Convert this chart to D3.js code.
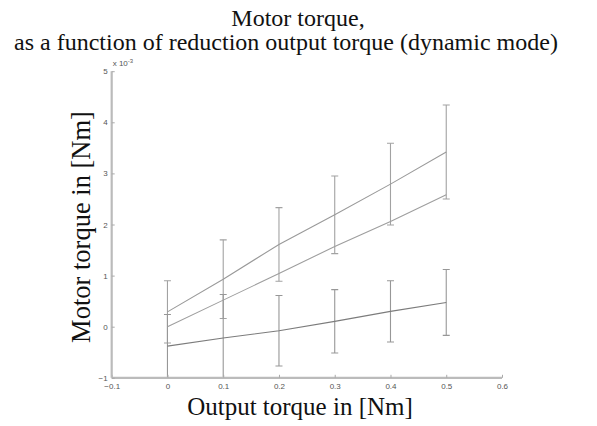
<!DOCTYPE html>
<html>
<head>
<meta charset="utf-8">
<script src="https://cdn.jsdelivr.net/npm/d3@7"></script>
<style>
  body { margin: 0; background: #fff; }
  svg { display: block; }
  .title, .label { font-family: "Liberation Serif", "Times New Roman", serif; fill: #111; }
  .tick text { font-family: "Liberation Sans", Arial, sans-serif; font-size: 8px; fill: #555; }
</style>
</head>
<body>
<svg id="chart" width="597" height="426"></svg>
<script>
// output torque [Nm]
const outTorque = [0, 0.1, 0.2, 0.3, 0.4, 0.5]
// motor torque, units of 1e-3 Nm
const seriesA = [0.29, 0.93, 1.61, 2.19, 2.79, 3.42]
const errA = [0.61, 0.77, 0.72, 0.76, 0.80, 0.92]
const seriesB = [0.0, 0.52, 1.04, 1.57, 2.06, 2.58]
const seriesC = [-0.38, -0.22, -0.08, 0.105, 0.30, 0.475]
const errC = [0.62, 0.85, 0.69, 0.62, 0.60, 0.645]
const xTicks = [-0.1, 0, 0.1, 0.2, 0.3, 0.4, 0.5, 0.6]
const yTicks = [-1, 0, 1, 2, 3, 4, 5]

const svg = d3.select('#chart')
const x = d3.scaleLinear().domain([-0.1, 0.6]).range([111.7, 502])
const y = d3.scaleLinear().domain([-1, 5]).range([377.8, 71.2])

svg.append('rect').attr('width', 597).attr('height', 426).attr('fill', '#fff')

svg.append('defs').append('clipPath').attr('id', 'plot')
	.append('rect')
	.attr('x', x(-0.1)).attr('y', y(5))
	.attr('width', x(0.6) - x(-0.1)).attr('height', y(-1) - y(5))

const plot = svg.append('g').attr('clip-path', 'url(#plot)')

const line = d3.line()
	.x((d, i) => x(outTorque[i]))
	.y(d => y(d))

const drawBars = (vals, errs, color) => {
	const g = plot.append('g').attr('stroke', color).attr('stroke-width', 1.1).attr('fill', 'none')
	vals.forEach((v, i) => {
		const cx = x(outTorque[i])
		const lo = y(v - errs[i]), hi = y(v + errs[i])
		g.append('line').attr('x1', cx).attr('x2', cx).attr('y1', lo).attr('y2', hi)
		g.append('line').attr('x1', cx - 3.5).attr('x2', cx + 3.5).attr('y1', lo).attr('y2', lo)
		g.append('line').attr('x1', cx - 3.5).attr('x2', cx + 3.5).attr('y1', hi).attr('y2', hi)
	})
}

drawBars(seriesA, errA, '#a2a2a2')
drawBars(seriesC, errC, '#979797')

const lines = [
	{ data: seriesA, color: '#9a9a9a' },
	{ data: seriesB, color: '#9e9e9e' },
	{ data: seriesC, color: '#7c7c7c' }
]
lines.forEach(s => {
	plot.append('path')
		.attr('d', line(s.data))
		.attr('fill', 'none')
		.attr('stroke', s.color)
		.attr('stroke-width', 1.1)
})

// axes (matlab style, ticks inward, no box)
const xAxis = svg.append('g')
	.attr('class', 'x axis')
	.attr('transform', `translate(0, ${y(-1)})`)
	.call(d3.axisBottom(x).tickValues(xTicks).tickSize(-3).tickPadding(6).tickFormat(d3.format('.1f')))
xAxis.selectAll('.tick text').text(d => d === 0 ? '0' : d3.format('.1f')(d))

const yAxis = svg.append('g')
	.attr('class', 'y axis')
	.attr('transform', `translate(${x(-0.1)}, 0)`)
	.call(d3.axisLeft(y).tickValues(yTicks).tickSize(-3).tickPadding(4).tickFormat(d3.format('d')))

svg.selectAll('.axis path.domain').attr('stroke', '#bbb').attr('stroke-width', 2.2)
svg.selectAll('.axis .tick line').attr('stroke', '#aaa')
xAxis.select('.domain').attr('d', `M${x(-0.1)},0H${x(0.6)}`)
yAxis.select('.domain').attr('d', `M0,${y(5)}V${y(-1)}`)

// exponent label
const expo = svg.append('text')
	.attr('x', x(-0.1) + 1)
	.attr('y', y(5) - 5)
	.style('font-family', '"Liberation Sans", Arial, sans-serif')
	.style('font-size', '8px')
	.attr('fill', '#555')
expo.append('tspan').text('x 10')
expo.append('tspan').attr('dy', -3).style('font-size', '6px').text('-3')

// titles
svg.append('text').attr('class', 'title')
	.attr('x', 298).attr('y', 26)
	.attr('text-anchor', 'middle').style('font-size', '24px')
	.text('Motor torque,')
svg.append('text').attr('class', 'title')
	.attr('x', 286).attr('y', 50)
	.attr('text-anchor', 'middle').style('font-size', '24px')
	.text('as a function of reduction output torque (dynamic mode)')

svg.append('text').attr('class', 'label')
	.attr('x', 300).attr('y', 415)
	.attr('text-anchor', 'middle').style('font-size', '25px')
	.text('Output torque in [Nm]')

svg.append('text').attr('class', 'label')
	.attr('transform', `translate(90, 227) rotate(-90)`)
	.attr('text-anchor', 'middle').style('font-size', '26.5px')
	.text('Motor torque in [Nm]')
</script>
</body>
</html>
